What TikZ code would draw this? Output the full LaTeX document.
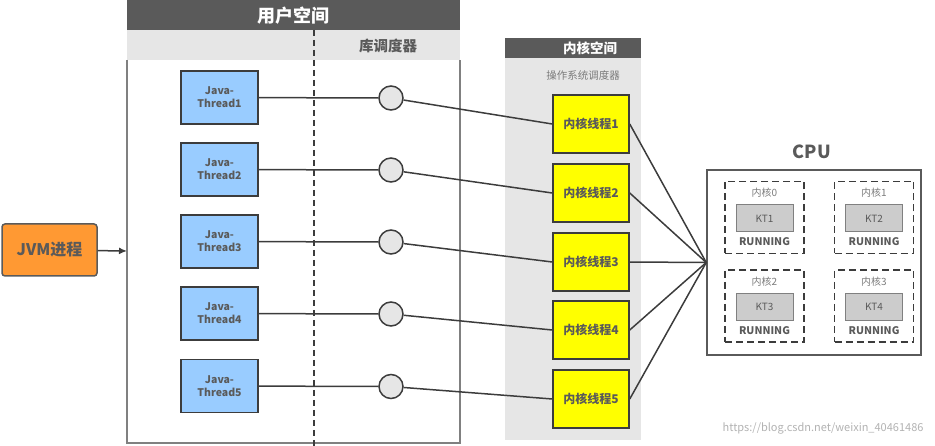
\documentclass[tikz,border=0pt]{standalone}
\usepackage{fontspec}
\setmainfont{Noto Sans CJK SC}
\usetikzlibrary{arrows.meta}
\definecolor{headgray}{HTML}{5A5A5A}
\definecolor{panelgray}{HTML}{E6E6E6}
\definecolor{linegray}{HTML}{3C3C3C}
\definecolor{threadblue}{HTML}{99CCFF}
\definecolor{ktyellow}{HTML}{FFFF00}
\definecolor{jvmorange}{HTML}{FF9933}
\definecolor{ktgray}{HTML}{CCCCCC}
\tikzset{
  header/.style={fill=headgray,text=white,font=\bfseries,anchor=north west,inner sep=0pt},
  javathread/.style={draw=linegray,fill=threadblue,line width=1.5pt,minimum width=77pt,minimum height=53pt,align=center,font=\bfseries\fontsize{10.5}{13}\selectfont,text=headgray},
  kthread/.style={draw=linegray,fill=ktyellow,line width=1.5pt,minimum width=76pt,minimum height=58pt,font=\bfseries\fontsize{12}{14}\selectfont,text=headgray},
  libcircle/.style={circle,draw=linegray,fill=panelgray,line width=1.5pt,minimum size=24pt,inner sep=0pt},
  corebox/.style={draw=linegray,dash pattern=on 7pt off 4pt,line width=1.5pt,minimum width=79pt,minimum height=72pt},
  ktbox/.style={draw=gray,fill=ktgray,line width=1pt,minimum width=57pt,minimum height=27pt,font=\fontsize{10}{12}\selectfont,text=headgray},
  smalltext/.style={font=\fontsize{10}{12}\selectfont,text=headgray!80},
  runtext/.style={font=\bfseries\fontsize{10.5}{12}\selectfont,text=headgray}
}
\begin{document}
\begin{tikzpicture}[x=1pt,y=-1pt]
  \useasboundingbox (0,0) rectangle (935,446);
  % user space
  \fill[panelgray] (127,30) rectangle (460,60);
  \draw[gray,line width=1.2pt] (127,60) -- (127,443) -- (460,443) -- (460,60);
  \node[header,minimum width=333pt,minimum height=30pt,font=\bfseries\fontsize{18}{20}\selectfont] (user) at (127,0) {用户空间};
  \node[font=\bfseries\fontsize{14.5}{16}\selectfont,text=headgray] (libsched) at (388,46) {库调度器};
  \draw[linegray,dash pattern=on 6pt off 4pt,line width=1.5pt] (314,30) -- (314,446);
  % kernel space
  \fill[panelgray] (505,58) rectangle (641,440);
  \fill[headgray] (505,38) rectangle (641,58);
  \node[text=white,font=\bfseries\fontsize{13.5}{15}\selectfont,inner sep=0pt] (kernel) at (590,48) {内核空间};
  \node[font=\fontsize{10.5}{12}\selectfont,text=headgray!80] (ossched) at (583,75) {操作系统调度器};
  % JVM
  \node[draw=headgray,fill=jvmorange,rounded corners=3pt,line width=1.5pt,minimum width=95pt,minimum height=52pt,font=\bfseries\fontsize{16}{18}\selectfont,text=headgray] (jvm) at (49.5,250) {JVM进程};
  \coordinate (userin) at (127,251);
  \draw[linegray,line width=1.5pt,-{Latex[length=8pt,width=7pt]}] (jvm) -- (userin);
  % threads
  \node[javathread] (t1) at (219.5,97.5) {Java-\\Thread1};
  \node[javathread] (t2) at (219.5,169.5) {Java-\\Thread2};
  \node[javathread] (t3) at (219.5,241.5) {Java-\\Thread3};
  \node[javathread] (t4) at (219.5,313.5) {Java-\\Thread4};
  \node[javathread] (t5) at (219.5,386) {Java-\\Thread5};
  \node[libcircle] (c1) at (391,98) {};
  \node[libcircle] (c2) at (391,170) {};
  \node[libcircle] (c3) at (391,242) {};
  \node[libcircle] (c4) at (391,314) {};
  \node[libcircle] (c5) at (391,386.5) {};
  \node[kthread] (k1) at (591,124) {内核线程1};
  \node[kthread] (k2) at (591,193) {内核线程2};
  \node[kthread] (k3) at (591,262) {内核线程3};
  \node[kthread] (k4) at (591,330) {内核线程4};
  \node[kthread] (k5) at (591,399) {内核线程5};
  % cpu
  \node[font=\bfseries\fontsize{18}{20}\selectfont,text=headgray] (cpulabel) at (812,152) {CPU};
  \node[draw=headgray,line width=1.5pt,minimum width=214pt,minimum height=185pt] (cpu) at (814,262.5) {};
  \node[corebox] (core0) at (764.5,217.5) {};
  \node[corebox] (core1) at (874,217.5) {};
  \node[corebox] (core2) at (764.5,306) {};
  \node[corebox] (core3) at (874,306) {};
  \node[smalltext] (n0) at (764.5,193) {内核0};
  \node[smalltext] (n1) at (874,193) {内核1};
  \node[smalltext] (n2) at (764.5,282) {内核2};
  \node[smalltext] (n3) at (874,282) {内核3};
  \node[ktbox] (kt1) at (764.5,218.5) {KT1};
  \node[ktbox] (kt2) at (874,218.5) {KT2};
  \node[ktbox] (kt3) at (764.5,307) {KT3};
  \node[ktbox] (kt4) at (874,307) {KT4};
  \node[runtext] (r0) at (764.5,242) {RUNNING};
  \node[runtext] (r1) at (874,242) {RUNNING};
  \node[runtext] (r2) at (764.5,331) {RUNNING};
  \node[runtext] (r3) at (874,331) {RUNNING};
  \node[font=\fontsize{11}{13}\selectfont,text=gray!60,anchor=east] (mark) at (927,428) {https://blog.csdn.net/weixin\_40461486};
  % connectors
  \begin{scope}[every edge/.style={draw=linegray,line width=1.5pt}]
    \path (t1) edge (c1);
    \path (t2) edge (c2);
    \path (t3) edge (c3);
    \path (t4) edge (c4);
    \path (t5) edge (c5);
    \path (c1) edge (k1.west);
    \path (c2) edge (k2.west);
    \path (c3) edge (k3.west);
    \path (c4) edge (k4.west);
    \path (c5) edge (k5.west);
    \path (k1.east) edge (cpu.west);
    \path (k2.east) edge (cpu.west);
    \path (k3.east) edge (cpu.west);
    \path (k4.east) edge (cpu.west);
    \path (k5.east) edge (cpu.west);
  \end{scope}
\end{tikzpicture}
\end{document}
